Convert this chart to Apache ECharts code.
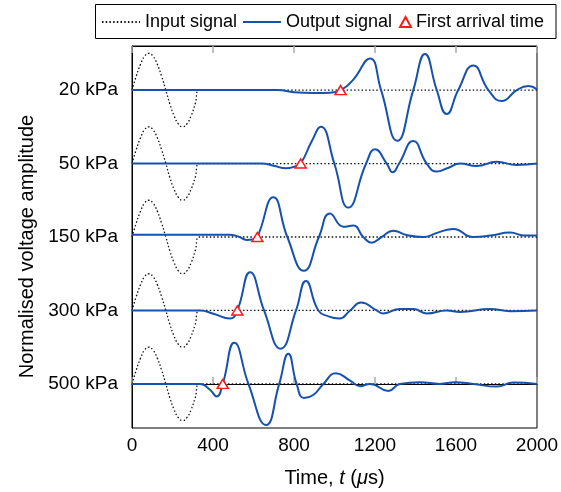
<!DOCTYPE html>
<html>
<head>
<meta charset="utf-8">
<script src="https://cdn.jsdelivr.net/npm/echarts@6/dist/echarts.min.js"></script>
<style>
  html, body { margin: 0; padding: 0; background: #fff; }
  #chart { width: 561px; height: 492px; }
</style>
</head>
<body>
<div id="chart"></div>
<script>
// Confining pressures, top row first
const pressureLabels = ['20 kPa', '50 kPa', '150 kPa', '300 kPa', '500 kPa'];

// Time axis ticks (µs)
const timeMin = 0;
const timeMax = 2000;
const timeStep = 400;

// Excitation: one-cycle sine burst, [time µs, normalised amplitude]
const inputSignal = [
  [0, 0], [21, 0.19], [42, 0.35], [62, 0.46], [83, 0.5], [104, 0.46], [125, 0.35], [146, 0.19],
  [167, 0], [187, -0.19], [208, -0.35], [229, -0.46], [250, -0.5], [271, -0.46], [292, -0.35],
  [312, -0.19], [333, 0], [2000, 0]
];

// Received signals, [time µs, normalised amplitude]
const output20 = [
  [0, 0], [720, 0], [800, -0.03], [900, -0.04], [980, -0.035], [1030, 0], [1091, 0.136],
  [1175, 0.431], [1230, 0], [1310, -0.69], [1389, 0], [1447, 0.49], [1505, 0], [1554, -0.327],
  [1611, 0], [1685, 0.336], [1760, 0], [1826, -0.15], [1900, 0], [1957, 0.054], [2000, 0.01]
];
const output50 = [
  [0, 0], [640, 0], [700, -0.03], [760, -0.065], [805, -0.04], [833, 0], [887, 0.3], [932, 0.5],
  [999, 0], [1068, -0.6], [1156, 0], [1200, 0.193], [1258, 0], [1287, -0.12], [1319, 0],
  [1389, 0.306], [1455, 0], [1505, -0.11], [1560, -0.06], [1620, 0], [1702, -0.034],
  [1801, 0.025], [1900, -0.02], [2000, 0]
];
const output150 = [
  [0, 0.03], [480, 0.03], [530, 0], [566, -0.04], [600, -0.03], [619, 0], [698, 0.54], [767, 0],
  [849, -0.46], [923, 0], [978, 0.32], [1044, 0.14], [1093, 0.155], [1142, 0], [1183, -0.077],
  [1233, 0], [1290, 0.086], [1356, 0.027], [1438, 0], [1510, 0.06], [1587, 0.11], [1685, 0],
  [1770, 0.02], [1867, 0.06], [1940, 0.02], [2000, 0.02]
];
const output300 = [
  [0, 0], [336, 0], [402, -0.045], [484, -0.11], [520, 0], [583, 0.52], [652, 0], [734, -0.52],
  [810, 0], [859, 0.4], [920, 0], [970, -0.08], [1024, -0.11], [1077, 0], [1131, 0.11],
  [1208, 0], [1241, -0.04], [1323, 0.02], [1389, 0.02], [1455, -0.04], [1554, 0], [1620, -0.02],
  [1768, 0.02], [1867, -0.01], [2000, 0]
];
const output500 = [
  [0, 0], [336, 0], [385, -0.08], [418, -0.17], [448, 0], [505, 0.56], [575, 0], [662, -0.56],
  [727, 0], [772, 0.41], [813, 0], [849, -0.19], [895, -0.15], [945, 0], [1007, 0.145],
  [1077, 0.045], [1126, -0.03], [1175, 0], [1266, -0.095], [1323, 0], [1422, 0.023], [1521, 0],
  [1595, 0.023], [1685, 0], [1801, -0.036], [1883, 0.018], [2000, 0]
];
const outputs = [output20, output50, output150, output300, output500];

// First arrival times (µs), one per pressure
const arrivalTimes = [1030, 833, 619, 520, 448];

const FONT = 'Liberation Sans';
const BLUE = '#1652ad';
const rowCount = pressureLabels.length;
const rowBase = i => rowCount - 1 - i;   // stacked baselines, top row highest
const shift = (pts, b) => pts.map(p => [p[0], p[1] + b]);

const series = [];
pressureLabels.forEach((_, i) => {
  series.push({
    name: 'Input signal', type: 'line', symbol: 'none', smooth: 0.5, z: 2,
    lineStyle: { color: '#111', width: 1.3, type: [1.5, 2.2] },
    itemStyle: { color: '#111' },
    data: shift(inputSignal, rowBase(i))
  });
});
pressureLabels.forEach((_, i) => {
  series.push({
    name: 'Output signal', type: 'line', symbol: 'none', smooth: 0.5, z: 3,
    lineStyle: { color: BLUE, width: 2 },
    itemStyle: { color: BLUE },
    data: shift(outputs[i], rowBase(i))
  });
});
series.push({
  name: 'First arrival time', type: 'scatter', symbol: 'triangle', symbolSize: [11, 9], z: 5,
  itemStyle: { color: '#fff', borderColor: '#ff1a1a', borderWidth: 1.5, opacity: 1 },
  data: arrivalTimes.map((t, i) => [t, rowBase(i)])
});

const legendText = { fontFamily: FONT, fontSize: 18, color: '#000' };
const legendCommon = { top: 13, itemHeight: 14, textStyle: legendText, selectedMode: false, padding: 0 };
const lineOnly = { itemStyle: { opacity: 0 } };   // keep the line sample, drop the marker dot

const chart = echarts.init(document.getElementById('chart'), null, { renderer: 'canvas' });
chart.setOption({
  animation: false,
  backgroundColor: '#fff',
  textStyle: { fontFamily: FONT },
  grid: {
    left: 132, right: 24, top: 46, bottom: 64, outerBoundsMode: 'none', containLabel: false,
    show: true, borderColor: '#000', borderWidth: 1
  },
  graphic: [{
    type: 'rect', z: 10, silent: true,
    shape: { x: 95.5, y: 4.5, width: 460.5, height: 34 },
    style: { fill: 'none', stroke: '#000', lineWidth: 1 }
  }],
  legend: [
    Object.assign({ left: 101, itemWidth: 38, data: ['Input signal'] }, legendCommon, lineOnly),
    Object.assign({ left: 242, itemWidth: 38, data: ['Output signal'] }, legendCommon, lineOnly),
    Object.assign({ left: 399, itemWidth: 11, data: ['First arrival time'] }, legendCommon, { itemHeight: 10 })
  ],
  xAxis: [{
    type: 'value', min: timeMin, max: timeMax, interval: timeStep,
    name: 'Time, {it|t} ({it|μ}s)', nameLocation: 'middle', nameGap: 40,
    nameTextStyle: { fontFamily: FONT, fontSize: 20, color: '#000',
      rich: { it: { fontFamily: FONT, fontSize: 20, fontStyle: 'italic', color: '#000' } } },
    axisLine: { show: true, lineStyle: { color: '#000', width: 1 } },
    axisTick: { show: true, inside: true, length: 7, lineStyle: { color: '#aaa', width: 1.5 } },
    axisLabel: { fontFamily: FONT, fontSize: 19, color: '#000', margin: 8, formatter: v => String(v) },
    splitLine: { show: false }
  }, {
    type: 'value', position: 'top', min: timeMin, max: timeMax, interval: timeStep,
    axisLine: { show: true, lineStyle: { color: '#000', width: 1 } },
    axisTick: { show: true, inside: true, length: 7, lineStyle: { color: '#aaa', width: 1.5 } },
    axisLabel: { show: false },
    splitLine: { show: false }
  }],
  yAxis: {
    type: 'value', min: -0.6, max: rowCount - 0.4,
    name: 'Normalised voltage amplitude', nameLocation: 'middle', nameGap: 95,
    nameTextStyle: { fontFamily: FONT, fontSize: 20, color: '#000', padding: [0, 19, 0, 0] },
    axisLine: { show: true, lineStyle: { color: '#000', width: 1 } },
    axisTick: { show: false },
    splitLine: { show: false },
    axisLabel: {
      customValues: pressureLabels.map((_, i) => rowBase(i)),
      formatter: v => pressureLabels[rowCount - 1 - Math.round(v)],
      fontFamily: FONT, fontSize: 19, color: '#000', margin: 14
    }
  },
  series: series
});
</script>
</body>
</html>
